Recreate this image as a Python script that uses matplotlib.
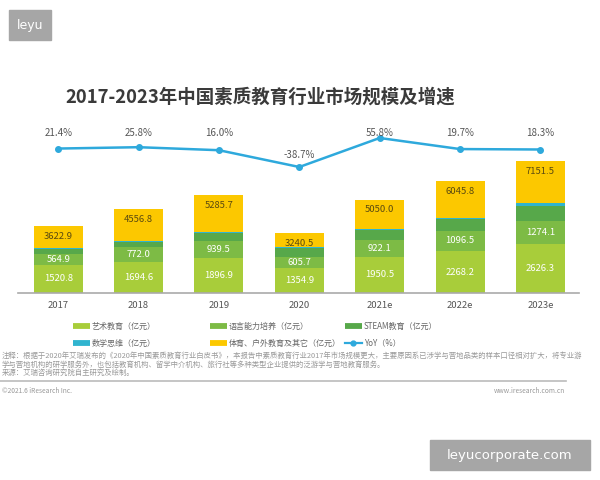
import numpy as np
import matplotlib
matplotlib.use('Agg')
import matplotlib.pyplot as plt
from matplotlib.patches import Rectangle
from matplotlib.lines import Line2D

plt.rcParams['font.family'] = ['Noto Sans CJK SC', 'DejaVu Sans']

# data
years = ['2017', '2018', '2019', '2020', '2021e', '2022e', '2023e']
art = [1520.8, 1694.6, 1896.9, 1354.9, 1950.5, 2268.2, 2626.3]
lang = [564.9, 772.0, 939.5, 605.7, 922.1, 1096.5, 1274.1]
steam = [300, 290, 420, 460, 520, 620, 800]
math_ = [20, 30, 40, 50, 60, 90, 180]
total = [3622.9, 4556.8, 5285.7, 3240.5, 5050.0, 6045.8, 7151.5]
sports = [t - a - l - s - m for t, a, l, s, m in zip(total, art, lang, steam, math_)]
yoy = [21.4, 25.8, 16.0, -38.7, 55.8, 19.7, 18.3]

names = ['艺术教育（亿元）', '语言能力培养（亿元）', 'STEAM教育（亿元）',
         '数学思维（亿元）', '体育、户外教育及其它（亿元）', 'YoY（%）']
colors = ['#A8CD3A', '#7DBB45', '#57A84A', '#30B4CF', '#FCC800']
line_c = '#2EA9DC'

W, H = 600, 480
fig = plt.figure(figsize=(6, 4.8), dpi=100)


def fx(px):
    return px / W


def fy(py):
    return 1 - py / H


# main axes
ax = fig.add_axes([fx(18), fy(293), fx(579) - fx(18), fy(100) - fy(293)])
x = np.arange(len(years))
bw = 0.61
stack = [art, lang, steam, math_, sports]
bottom = np.zeros(len(years))
for vals, c in zip(stack, colors):
    ax.bar(x, vals, bw, bottom=bottom, color=c, linewidth=0)
    bottom = bottom + np.array(vals)
ax.set_xlim(-0.5, 6.48)
ax.set_ylim(0, 10430)
for s in ['top', 'right', 'left']:
    ax.spines[s].set_visible(False)
ax.spines['bottom'].set_color('#AAAAAA')
ax.spines['bottom'].set_linewidth(1.2)
ax.set_yticks([])
ax.set_xticks(x)
ax.set_xticklabels(years, fontsize=6.8, color='#555555')
ax.tick_params(axis='x', length=0, pad=6)

# value labels
for i in range(len(years)):
    ax.text(x[i], art[i] / 2, '%.1f' % art[i], ha='center', va='center',
            fontsize=6.8, color='white')
    ax.text(x[i], art[i] + lang[i] / 2, '%.1f' % lang[i], ha='center',
            va='center', fontsize=6.8, color='white')
    ax.text(x[i], total[i] - 560, '%.1f' % total[i], ha='center',
            va='center', fontsize=6.8, color='#5A4A10')

# yoy line
ax2 = ax.twinx()
ax2.set_ylim(-449, 179.5)
ax2.plot(x, yoy, '-o', color=line_c, lw=1.8, ms=4)
ax2.axis('off')
for i, v in enumerate(yoy):
    ty = v + 39 if v < 0 else 72
    ax2.text(x[i], ty, '%.1f%%' % v, ha='center', va='center',
             fontsize=7, color='#555555')

# title
fig.text(fx(260), fy(97), '2017-2023年中国素质教育行业市场规模及增速',
         ha='center', va='center', fontsize=13.3, fontweight='bold',
         color='#3A3A3A')

# legend (drawn by hand to keep the reference column positions)
leg_x = [73, 210, 345]
leg_y = [326, 343]
leg_cols = colors + [line_c]
for k in range(6):
    x0 = leg_x[k % 3]
    y0 = leg_y[k // 3]
    if k < 5:
        fig.add_artist(Line2D([fx(x0), fx(x0 + 17)], [fy(y0), fy(y0)],
                              color=leg_cols[k], lw=4.2,
                              solid_capstyle='butt'))
    else:
        fig.add_artist(Line2D([fx(x0), fx(x0 + 17)], [fy(y0), fy(y0)],
                              color=leg_cols[k], lw=1.6))
        fig.add_artist(Line2D([fx(x0 + 8.5)], [fy(y0)], color=leg_cols[k],
                              marker='o', ms=3.5, lw=0))
    fig.text(fx(x0 + 19), fy(y0), names[k], fontsize=5.8, color='#666666',
             va='center')

# footnotes
notes = ['注释：根据于2020年艾瑞发布的《2020年中国素质教育行业白皮书》，本报告中素质教育行业2017年市场规模更大，主要原因系已涉学与营地品类的样本口径相对扩大，将专业游',
         '学与营地机构的研学服务外，也包括教育机构、留学中介机构、旅行社等多种类型企业提供的泛游学与营地教育服务。',
         '来源：艾瑞咨询研究院自主研究及绘制。']
for j, t in enumerate(notes):
    fig.text(fx(2), fy(356 + 8.5 * j), t, fontsize=5.3, color='#999999',
             va='center')
fig.add_artist(Line2D([fx(0), fx(566)], [fy(381), fy(381)], color='#BBBBBB',
                      lw=1.2))
fig.text(fx(2), fy(391), '©2021.6 iResearch Inc.', fontsize=4.8,
         color='#999999', va='center')
fig.text(fx(565), fy(391), 'www.iresearch.com.cn', fontsize=4.8,
         color='#999999', va='center', ha='right')

# watermarks
fig.add_artist(Rectangle((fx(9), fy(40)), fx(42), fy(10) - fy(40),
                         color='#A6A6A6', transform=fig.transFigure))
fig.text(fx(30), fy(25), 'leyu', fontsize=9, color='white', ha='center',
         va='center', family='DejaVu Sans')
fig.add_artist(Rectangle((fx(430), fy(470)), fx(160), fy(440) - fy(470),
                         color='#A6A6A6', transform=fig.transFigure))
fig.text(fx(510), fy(455), 'leyucorporate.com', fontsize=9.5, color='white',
         ha='center', va='center', family='DejaVu Sans')

fig.savefig('out.png', dpi=100)
